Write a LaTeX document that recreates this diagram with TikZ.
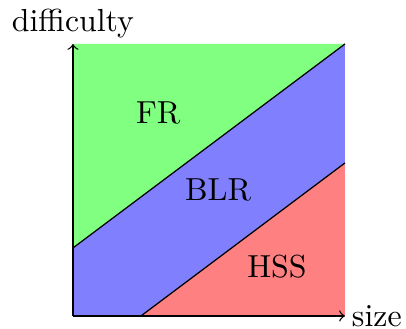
\documentclass[tikz,border=0pt]{standalone}
\usetikzlibrary{positioning}

\begin{document}
\begin{tikzpicture}[
  zone/.style={draw=none},
  bound/.style={draw=black, line width=0.4pt},
  axis/.style={->}
]
  \useasboundingbox (-0.805,-0.143) rectangle (3.673,3.485);
  \coordinate (o) at (0,0);
  \coordinate (xe) at (3,0);
  \coordinate (ye) at (0,3);
  \coordinate (tr) at (3,3);
  \coordinate (gl) at (0,0.75);
  \coordinate (rb) at (0.75,0);
  \coordinate (rr) at (3,1.6875);
  % regions
  \fill[zone, green!50] (gl) -- (tr) -- (ye) -- cycle;
  \fill[zone, blue!50] (o) -- (rb) -- (rr) -- (tr) -- (gl) -- cycle;
  \fill[zone, red!50] (rb) -- (xe) -- (rr) -- cycle;
  \draw[bound] (gl) -- (tr);
  \draw[bound] (rb) -- (rr);
  % axes
  \draw[axis] (o) -- (xe) node[right, inner sep=2pt] (xlab) {size};
  \draw[axis] (o) -- (ye) node[above, inner sep=1.6pt] (ylab) {difficulty};
  \node (fr) at (0.94,2.24) {FR};
  \node (blr) at (1.6,1.39) {BLR};
  \node (hss) at (2.25,0.54) {HSS};
\end{tikzpicture}
\end{document}
